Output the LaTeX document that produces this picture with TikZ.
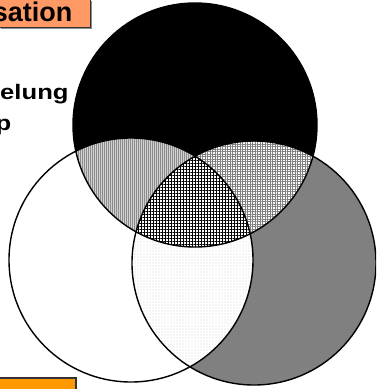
\documentclass[tikz,border=0pt]{standalone}
\usepackage{fontspec}
\setmainfont{Liberation Sans}
\usetikzlibrary{patterns.meta}
\definecolor{salmon}{HTML}{FF9966}
\definecolor{orangebox}{HTML}{FF9900}
\definecolor{midgray}{HTML}{808080}
\tikzset{
  ring/.style={draw=black, line width=1.4pt},
  labeltext/.style={font=\bfseries\fontsize{21}{24}\selectfont, inner sep=0pt, xscale=1.22},
}
\begin{document}
\begin{tikzpicture}[x=1pt,y=-1pt]
\path[use as bounding box] (0,0) rectangle (376,389);
\clip (0,0) rectangle (376,389);
\fill[white] (0,0) rectangle (376,389);
\def\rr{122pt}
\coordinate (T) at (195,125);
\coordinate (L) at (131,260);
\coordinate (R) at (254,263);
% right circle (right only: gray)
\fill[midgray] (R) circle[radius=\rr];
% left circle white
\fill[white] (L) circle[radius=\rr];
% L and R only: dots
\begin{scope}
  \clip (L) circle[radius=\rr];
  \fill[white] (R) circle[radius=\rr];
  \fill[pattern={Dots[radius=0.45pt,distance=3pt]}, pattern color=black!45] (R) circle[radius=\rr];
\end{scope}
% top circle black
\fill[black] (T) circle[radius=\rr];
\begin{scope}
  \clip (T) circle[radius=\rr];
  \fill[black!18] (L) circle[radius=\rr];
  \fill[pattern={Lines[angle=90,distance=2pt,line width=0.9pt]}, pattern color=black!45] (L) circle[radius=\rr];
  \fill[white] (R) circle[radius=\rr];
  \fill[pattern={Hatch[angle=0,distance=2.5pt,line width=0.8pt]}, pattern color=black!50] (R) circle[radius=\rr];
  \begin{scope}
    \clip (L) circle[radius=\rr];
    \fill[white] (R) circle[radius=\rr];
    \fill[pattern={Hatch[angle=0,distance=3pt,line width=1pt]}, pattern color=black] (R) circle[radius=\rr];
  \end{scope}
\end{scope}
% outlines
\draw[ring] (L) circle[radius=\rr];
\draw[ring] (R) circle[radius=\rr];
\draw[ring] (T) circle[radius=\rr];
% top label
\fill[black!45] (0.5,0.5) rectangle (91.5,28.5);
\node[draw=black!80, fill=salmon, line width=0.8pt, minimum width=92pt, minimum height=29pt, inner sep=0pt] (topbox) at (44,12.5) {};
\node[font=\bfseries\fontsize{27}{30}\selectfont, anchor=base east, inner sep=0pt] (toptext) at (72.5,21) {sation};
% side labels
\node[labeltext, anchor=base west] (lab1) at (0,99) {elung};
\node[labeltext, anchor=base west] (lab2) at (-4.5,130) {p};
% bottom box
\node[draw=black!80, fill=orangebox, line width=1.2pt, minimum width=80pt, minimum height=20pt, inner sep=0pt] (botbox) at (36,388) {};
\end{tikzpicture}
\end{document}
